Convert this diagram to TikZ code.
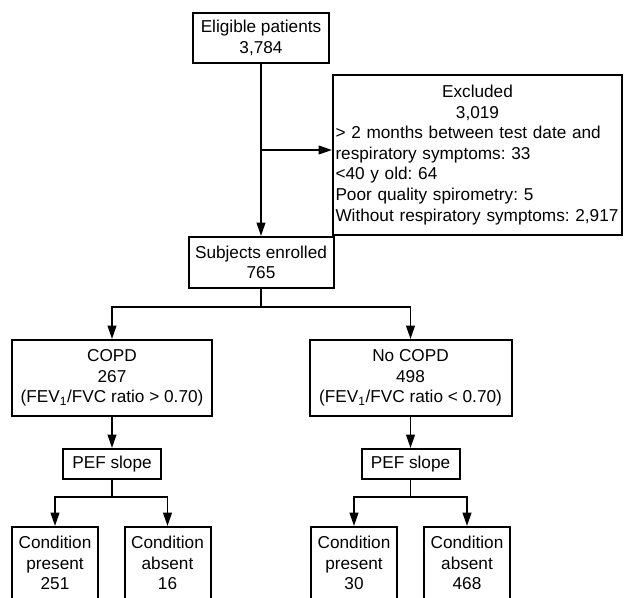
\documentclass[tikz,border=0pt]{standalone}
\usepackage{fontspec}
\setmainfont{Liberation Sans}
\usetikzlibrary{arrows.meta}

\begin{document}
\begin{tikzpicture}[x=0.75pt,y=-0.75pt,-{Triangle[length=10pt,width=6.5pt]},line width=1.4pt,draw=black]
	\fontsize{12.9}{15.4}\selectfont
	\frenchspacing
	\def \toprow{38}
	\def \enrolrow{262.5}
	\def \grouprow{378}
	\def \pefrow{464}
	\def \condrow{563}
	\def \leftcol{112}
	\def \rightcol{410.5}

	\tikzstyle{box}=[rectangle,draw=black,line width=1.5pt,inner xsep=2pt,inner ysep=1pt,align=center]
	\tikzstyle{cond}=[box,minimum width=64.5pt,minimum height=54pt]

	\useasboundingbox (0,0) rectangle (627,597);
	\clip (0,0) rectangle (627,597);

	% top
	\node[box,minimum width=102pt,minimum height=37.5pt]	(elig)	at (261,\toprow)	{Eligible patients\\3,784};
	\node[box,align=left,text width=213pt,inner xsep=1.9pt,minimum height=120pt]	(excl)	at (477.5,155)
		{\hfill Excluded\hfill\null\\
		 \hfill 3,019\hfill\null\\
		 > 2 months between test date and\\
		 respiratory symptoms: 33\\
		 <40 y old: 64\\
		 Poor quality spirometry: 5\\
		 Without respiratory symptoms: 2,917};
	\node[box,minimum width=108.75pt,minimum height=38.25pt]	(subj)	at (261,\enrolrow)	{Subjects enrolled\\765};

	% groups
	\node[box,minimum width=150pt,minimum height=57pt]	(copd)	at (\leftcol,\grouprow)	{COPD\\267\\(FEV\textsubscript{1}/FVC ratio > 0.70)};
	\node[box,minimum width=151.5pt,minimum height=57pt]	(nocopd)	at (\rightcol,\grouprow)	{No COPD\\498\\(FEV\textsubscript{1}/FVC ratio < 0.70)};

	\node[box,minimum width=73.5pt,minimum height=22.5pt]	(pefa)	at (\leftcol,\pefrow)	{PEF slope};
	\node[box,minimum width=73.5pt,minimum height=22.5pt]	(pefb)	at (\rightcol,\pefrow)	{PEF slope};

	% conditions
	\node[cond]	(presa)	at (55,\condrow)	{Condition\\present\\251};
	\node[cond]	(absa)	at (167.5,\condrow)	{Condition\\absent\\16};
	\node[cond]	(presb)	at (354,\condrow)	{Condition\\present\\30};
	\node[cond]	(absb)	at (467,\condrow)	{Condition\\absent\\468};

	\coordinate (side)	at (261,150);
	\coordinate (fork)	at (261,307);
	\coordinate (forka)	at (\leftcol,497);
	\coordinate (forkb)	at (\rightcol,497);

	\draw (elig) -- (subj);
	\draw (side) -- (side -| excl.west);

	\draw[-] (subj) -- (fork);
	\draw (fork) -| (copd);
	\draw (fork) -| (nocopd);

	\draw (copd) -- (pefa);
	\draw (nocopd) -- (pefb);

	\draw[-] (pefa) -- (forka);
	\draw (forka) -| (presa);
	\draw (forka) -| (absa);
	\draw[-] (pefb) -- (forkb);
	\draw (forkb) -| (presb);
	\draw (forkb) -| (absb);
\end{tikzpicture}
\end{document}
